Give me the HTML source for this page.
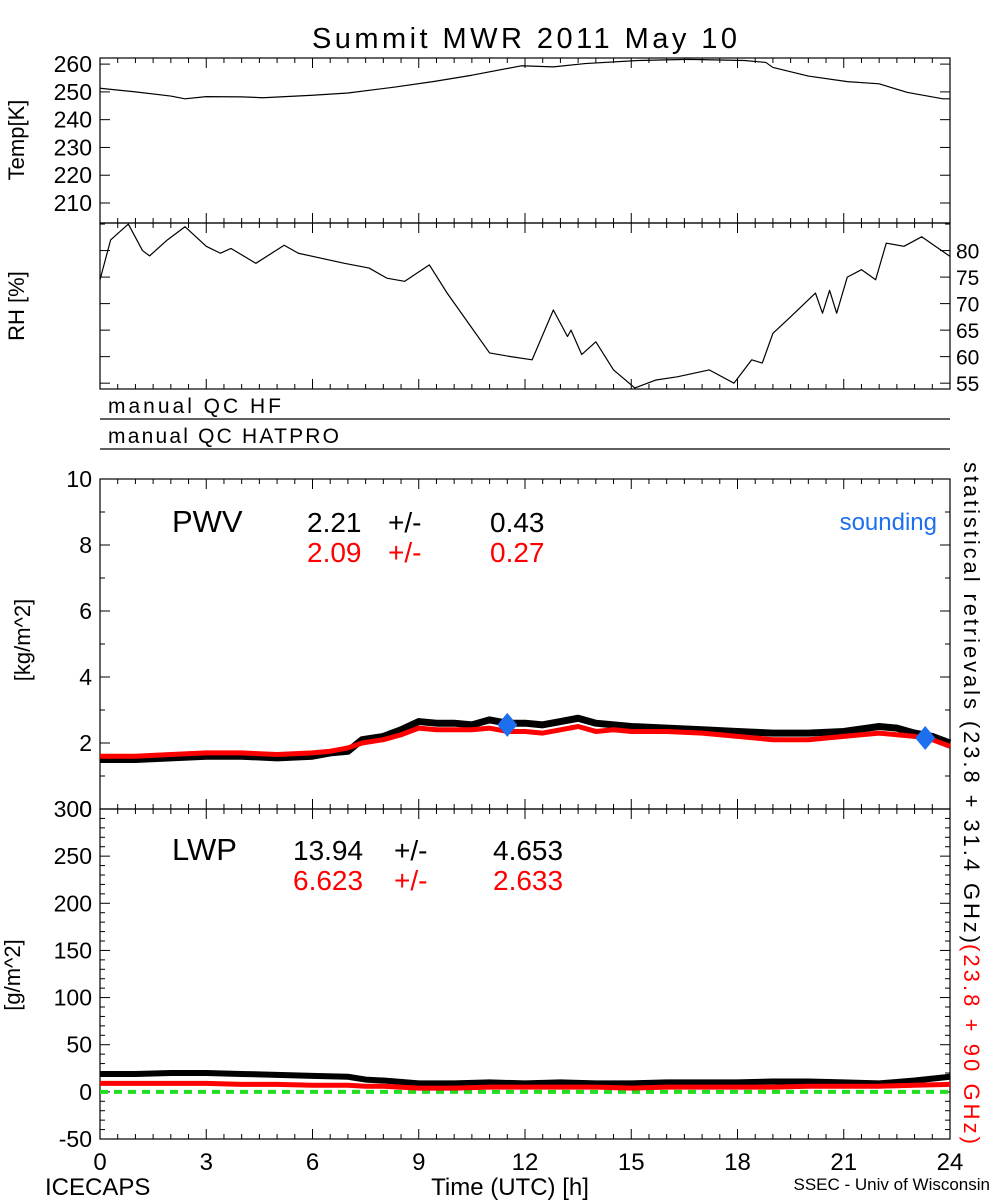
<!DOCTYPE html>
<html><head><meta charset="utf-8"><style>
html,body{margin:0;padding:0;background:#fff;}
svg{display:block;font-family:"Liberation Sans",sans-serif;}
</style></head><body>
<svg id="chart" width="1000" height="1200" viewBox="0 0 1000 1200" xmlns="http://www.w3.org/2000/svg">
<text x="312" y="48" font-size="29" textLength="425" lengthAdjust="spacing">Summit MWR 2011 May 10</text>
<text x="108" y="413" font-size="21" textLength="173" lengthAdjust="spacing">manual QC HF</text>
<line x1="100" y1="419" x2="950" y2="419" stroke="#000" stroke-width="1.2"/>
<text x="108" y="443" font-size="21" textLength="231" lengthAdjust="spacing">manual QC HATPRO</text>
<line x1="100" y1="449" x2="950" y2="449" stroke="#000" stroke-width="1.2"/>
<text x="172" y="532" font-size="31">PWV</text>
<g font-size="28"><text x="307" y="532">2.21</text><text x="388" y="532">+/-</text><text x="490" y="532">0.43</text></g>
<g font-size="28" fill="#ff0000"><text x="307" y="562">2.09</text><text x="388" y="562">+/-</text><text x="490" y="562">0.27</text></g>
<text x="937" y="530" font-size="24" fill="#1e6ff0" text-anchor="end">sounding</text>
<text x="172" y="860" font-size="31">LWP</text>
<g font-size="28"><text x="293" y="860">13.94</text><text x="394" y="860">+/-</text><text x="493" y="860">4.653</text></g>
<g font-size="28" fill="#ff0000"><text x="293" y="890">6.623</text><text x="394" y="890">+/-</text><text x="493" y="890">2.633</text></g>
<text transform="translate(964,462) rotate(90)" font-size="22" textLength="481" lengthAdjust="spacing">statistical retrievals (23.8 + 31.4 GHz)</text>
<text transform="translate(964,944) rotate(90)" font-size="22" fill="#ff0000" textLength="200" lengthAdjust="spacing">(23.8 + 90 GHz)</text>
<text x="45" y="1195" font-size="24">ICECAPS</text>
<text x="510" y="1195" font-size="24" text-anchor="middle">Time (UTC) [h]</text>
<text x="990" y="1190" font-size="17" text-anchor="end">SSEC - Univ of Wisconsin</text>
<g id="plots"></g>
</svg>
<script>
// ---- data ----
const tempHours = [0,1,2,2.4,3,4,4.6,6,7,8.3,9.4,10.5,11.9,12.8,13.7,15.2,16.6,18.2,18.8,19,20,21.1,22,22.8,23.8,24];
const tempValues = [251.3,250,248.5,247.5,248.3,248.2,247.9,248.8,249.6,251.7,253.7,256,259.4,259,260.2,261.3,261.7,261.3,260.6,258.8,255.7,253.7,252.9,249.8,247.5,247.5];
const rhHours = [0,0.3,0.8,1.2,1.4,1.9,2.4,3,3.4,3.7,4.4,5.2,5.6,6.9,7.6,8.1,8.6,9.3,9.8,10.5,11,11.6,12.2,12.8,13.2,13.3,13.6,14,14.5,15.1,15.7,16.3,17.2,17.9,18.4,18.7,19,19.5,20.2,20.4,20.6,20.8,21.1,21.5,21.9,22.2,22.7,23.2,24];
const rhValues = [74.5,82,85,80,79,82,84.5,80.8,79.5,80.4,77.6,81,79.5,77.6,76.7,74.8,74.2,77.3,72,65.4,60.7,60,59.4,68.8,63.8,65,60.4,62.8,57.5,54.1,55.6,56.2,57.5,55,59.4,58.8,64.4,67.5,72,68.2,72.5,68.2,75,76.4,74.5,81.4,80.8,82.6,78.9];
const pwvHours = [0,1,2,3,4,5,6,6.5,7,7.4,8,8.5,9,9.5,10,10.5,11,11.5,12,12.5,13,13.5,14,14.5,15,16,17,18,19,20,21,22,22.5,23,23.5,24];
const pwvBlack = [1.5,1.5,1.55,1.6,1.6,1.55,1.6,1.7,1.75,2.1,2.2,2.4,2.65,2.6,2.6,2.55,2.7,2.6,2.6,2.55,2.65,2.75,2.6,2.55,2.5,2.45,2.4,2.35,2.3,2.3,2.35,2.5,2.45,2.3,2.2,2.0];
const pwvRed = [1.6,1.6,1.65,1.7,1.7,1.65,1.7,1.75,1.85,2.0,2.1,2.25,2.45,2.4,2.4,2.4,2.45,2.35,2.35,2.3,2.4,2.5,2.35,2.4,2.35,2.35,2.3,2.2,2.1,2.1,2.2,2.3,2.25,2.2,2.1,1.9];
const soundingHours = [11.5,23.3];
const soundingValues = [2.55,2.15];
const lwpHours = [0,1,2,3,4,5,6,7,7.5,8,9,10,11,12,13,14,15,16,17,18,19,20,21,22,23,24];
const lwpBlack = [19,19,20,20,19,18,17,16,13,12,9,9,10,9,10,9,9,10,10,10,11,11,10,9,12,16];
const lwpRed = [9,9,9,9,8,8,7,7,6,6,4,4,5,5,5,5,4,5,5,5,5,6,6,6,7,8];
const xTicks = [0,3,6,9,12,15,18,21,24];
const tempTicks = [210,220,230,240,250,260];
const rhTicks = [55,60,65,70,75,80];
const pwvTicks = [0,2,4,6,8,10];
const lwpTicks = [-50,0,50,100,150,200,250,300];

const NS = "http://www.w3.org/2000/svg";
const X0 = 100, X1 = 950;
const xs = h => X0 + (h / 24) * (X1 - X0);
const g = document.getElementById('plots');
function mk(tag, attrs) { const e = document.createElementNS(NS, tag); for (const k in attrs) e.setAttribute(k, attrs[k]); g.appendChild(e); return e; }
function yScale(top, bot, vmin, vmax) { return v => bot - (v - vmin) / (vmax - vmin) * (bot - top); }
function panel(name, top, bot, vmin, vmax, ticks, minorStep, side, fs) {
  const y = yScale(top, bot, vmin, vmax);
  const r = mk('rect', {x: X0, y: top, width: X1 - X0, height: bot - top, fill: 'none', stroke: '#000', 'stroke-width': 1.2});
  
  
  for (let h = 0; h <= 24; h += 0.5) {
    const maj = h % 3 === 0;
    const l = maj ? 10 : 5;
    const t1 = mk('line', {x1: xs(h), x2: xs(h), y1: bot, y2: bot - l, stroke: '#000', 'stroke-width': 1});
    
    
    const t2 = mk('line', {x1: xs(h), x2: xs(h), y1: top, y2: top + l, stroke: '#000', 'stroke-width': 1});
    
    
  }
  for (let v = Math.ceil(vmin / minorStep) * minorStep; v <= vmax + 1e-9; v += minorStep) {
    const maj = ticks.some(t => Math.abs(t - v) < 1e-9);
    const l = maj ? 10 : 5;
    const a = mk('line', {x1: X0, x2: X0 + l, y1: y(v), y2: y(v), stroke: '#000', 'stroke-width': 1});
    
    
    const b = mk('line', {x1: X1, x2: X1 - l, y1: y(v), y2: y(v), stroke: '#000', 'stroke-width': 1});
    
    
  }
  ticks.forEach(v => {
    const t = mk('text', {x: side === 'left' ? 92 : 956, y: y(v) + 8, 'font-size': fs, 'text-anchor': side === 'left' ? 'end' : 'start'});
    t.textContent = v;
    
    
  });
  return y;
}
function line(name, hours, vals, y, color, w, dash) {
  const p = mk('polyline', {points: hours.map((h, i) => xs(h) + ',' + y(vals[i])).join(' '), fill: 'none', stroke: color, 'stroke-width': w, 'stroke-linejoin': 'round'});
  if (dash) p.setAttribute('stroke-dasharray', dash);
  
  
}
const yT = panel('temp', 58, 223, 202.8, 262.2, tempTicks, 10, 'left', 23);
line('temp-line', tempHours, tempValues, yT, '#000', 1.2);
const yR = panel('rh', 223, 389, 53.9, 85.2, rhTicks, 5, 'right', 21);
line('rh-line', rhHours, rhValues, yR, '#000', 1.2);
const yP = panel('pwv', 479, 809, 0, 10, pwvTicks, 1, 'left', 23);
line('pwv-black-line', pwvHours, pwvBlack, yP, '#000', 7);
line('pwv-red-line', pwvHours, pwvRed, yP, '#ff0000', 5);
soundingHours.forEach((h, i) => {
  const cx = xs(h), cy = yP(soundingValues[i]);
  const d = mk('polygon', {points: `${cx},${cy-12} ${cx+10},${cy} ${cx},${cy+12} ${cx-10},${cy}`, fill: '#1e6ff0'});
  
  
});
const yL = panel('lwp', 809, 1139, -50, 300, lwpTicks, 10, 'left', 23);
line('lwp-zero-line', [0, 24], [0, 0], yL, '#22dd22', 4, '8,6');
line('lwp-black-line', lwpHours, lwpBlack, yL, '#000', 6);
line('lwp-red-line', lwpHours, lwpRed, yL, '#ff0000', 5);
xTicks.forEach(h => {
  const t = mk('text', {x: xs(h), y: 1170, 'font-size': 24, 'text-anchor': 'middle'});
  t.textContent = h;
  
  
});
[['temp-y-axis-title', 'Temp[K]', 24, 140], ['rh-y-axis-title', 'RH [%]', 24, 306], ['pwv-y-axis-title', '[kg/m^2]', 30, 640], ['lwp-y-axis-title', '[g/m^2]', 20, 975]].forEach(a => {
  const t = mk('text', {transform: `translate(${a[2]},${a[3]}) rotate(-90)`, 'font-size': 22, 'text-anchor': 'middle'});
  t.textContent = a[1];
  
  
});
</script>
</body></html>
